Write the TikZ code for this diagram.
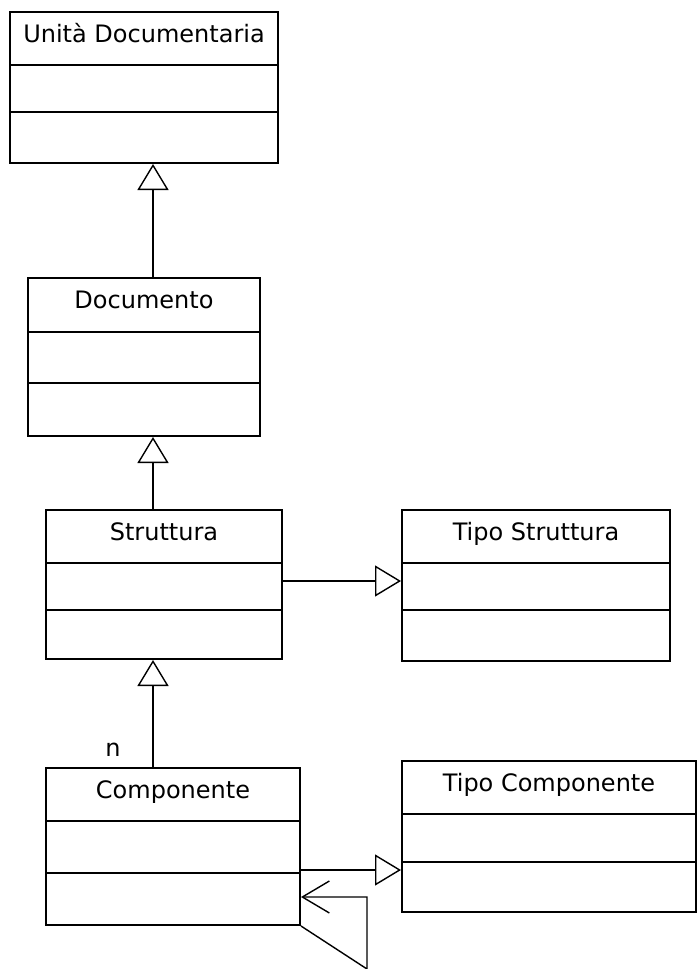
\documentclass[tikz,border=0pt]{standalone}
\usepackage{fontspec}
\setmainfont{DejaVu Sans}
\usetikzlibrary{arrows.meta}
\newcommand\umlclass[8]{% name, left, top, right, bottom, d1, d2, text
  \node[umlbox, minimum width={(#4-#2)*1pt}, minimum height={(#5-#3)*1pt}] (#1) at ({(#2+#4)/2},{(#3+#5)/2}) {};
  \coordinate (#1-d1) at (0,#6);
  \coordinate (#1-d2) at (0,#7);
  \draw[divider] (#1.west |- #1-d1) -- (#1.east |- #1-d1);
  \draw[divider] (#1.west |- #1-d2) -- (#1.east |- #1-d2);
  \node[classtitle] (#1-t) at ({(#2+#4)/2},{#3+30}) {#8};
}
\begin{document}
\begin{tikzpicture}[x=1pt,y=-1pt,
  umlbox/.style={draw, line width=2pt, rectangle, inner sep=0pt, fill=white},
  divider/.style={line width=2pt},
  classtitle/.style={anchor=base, font=\fontsize{24}{28}\selectfont, inner sep=0pt},
  lbl/.style={font=\fontsize{24}{28}\selectfont, inner sep=0pt},
  gen/.style={line width=1.7pt, -{Triangle[open, length=26pt, width=31pt, line width=1.4pt]}},
  selfref/.style={line width=1.4pt, -{Straight Barb[length=27pt, width=32pt, line width=1.4pt]}}
]
\useasboundingbox (0,0) rectangle (697,969);
\fill[white] (0,0) rectangle (697,969);

\umlclass{ud}{10}{12}{278}{163}{65}{112}{Unità Documentaria}
\umlclass{doc}{28}{278}{260}{436}{332}{383}{Documento}
\umlclass{st}{46}{510}{282}{659}{563}{610}{Struttura}
\umlclass{ts}{402}{510}{670}{661}{563}{610}{Tipo Struttura}
\umlclass{co}{46}{768}{300}{925}{821}{873}{Componente}
\umlclass{tc}{402}{761}{696}{912}{814}{862}{Tipo Componente}

\coordinate (ax) at (153,0);
\draw[gen] (doc.north -| ax) -- (ud.south -| ax);
\draw[gen] (st.north -| ax) -- (doc.south -| ax);
\draw[gen] (co.north -| ax) -- (st.south -| ax);

\coordinate (h1) at (0,581);
\draw[gen] (st.east |- h1) -- (ts.west |- h1);
\coordinate (h2) at (0,870);
\draw[gen] (co.east |- h2) -- (tc.west |- h2);

\coordinate (l1) at (367,969);
\coordinate (l2) at (367,897);
\draw[selfref] (co.south east) -- (l1) -- (l2) -- (co.east |- l2);

\node[lbl] (mult) at (113,750) {n};
\end{tikzpicture}
\end{document}
